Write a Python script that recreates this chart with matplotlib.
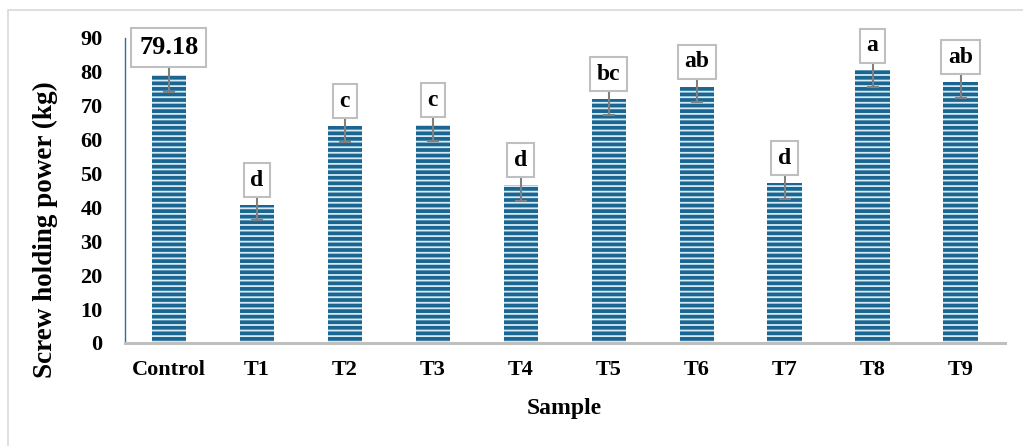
import matplotlib.pyplot as plt
from matplotlib.patches import Rectangle

plt.rcParams['font.family'] = ['Liberation Serif', 'DejaVu Serif']
plt.rcParams['font.weight'] = 'bold'
plt.rcParams['hatch.color'] = '#d6ebf7'
plt.rcParams['hatch.linewidth'] = 1.3

# data
samples = ['Control', 'T1', 'T2', 'T3', 'T4', 'T5', 'T6', 'T7', 'T8', 'T9']
power = [79.18, 40.7, 64.0, 64.3, 46.6, 72.0, 75.6, 47.2, 80.4, 77.0]
errors = [5.0, 4.4, 4.8, 4.6, 4.8, 4.8, 4.6, 4.6, 5.0, 4.8]
letters = ['79.18', 'd', 'c', 'c', 'd', 'bc', 'ab', 'd', 'a', 'ab']

fig = plt.figure(figsize=(10.23, 4.46), dpi=100)
ax = fig.add_axes([0.122, 0.231, 0.86, 0.684])

x = range(len(samples))
ax.bar(x, power, width=0.39, color='#1b6690', hatch='---', linewidth=0)
ax.errorbar(x, power, yerr=errors, fmt='none', ecolor='#808080',
            elinewidth=1.5, capsize=4.5, capthick=1.5)

for i, (v, lab) in enumerate(zip(power, letters)):
    fs = 19 if i == 0 else 17
    pad = 0.3 if i == 0 else 0.28
    ax.annotate(lab, (i, v), xytext=(0, 5.5 + pad * fs), textcoords='offset points',
                ha='center', va='bottom', fontsize=fs, fontweight='bold', zorder=5,
                bbox=dict(boxstyle='square,pad=%s' % pad, fc='white', ec='#bfbfbf', lw=1.5))

ax.set_xlim(-0.5, 9.5)
ax.set_ylim(0, 90)
ax.set_yticks(range(0, 91, 10))
ax.set_xticks(list(x))
ax.set_xticklabels(samples)
ax.tick_params(axis='y', length=0, pad=16, labelsize=16)
ax.tick_params(axis='x', length=0, pad=12, labelsize=16)
ax.set_ylabel('Screw holding power (kg)', fontsize=19.5, fontweight='bold')
ax.yaxis.set_label_coords(-0.076, 0.37)
ax.set_xlabel('Sample', fontsize=17, fontweight='bold', labelpad=13)

for s in ['top', 'right']:
    ax.spines[s].set_visible(False)
ax.spines['left'].set_color('#2e6f92')
ax.spines['left'].set_linewidth(1)
ax.spines['bottom'].set_color('#bfbfbf')
ax.spines['bottom'].set_linewidth(2.2)

# light outer frame
fig.patches.append(Rectangle((8 / 1023, -0.1), 1.1, 1.1 - 10 / 446, transform=fig.transFigure,
                             fill=False, ec='#d9d9d9', lw=1.2))

fig.savefig('out.png', dpi=100)
